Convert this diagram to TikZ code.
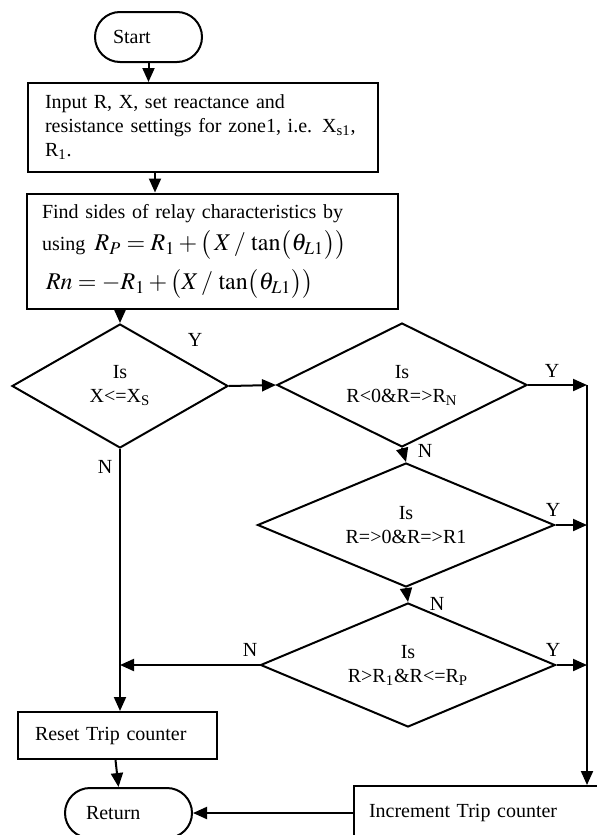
\documentclass[tikz,border=0pt]{standalone}
\usepackage{mathptmx}
\usepackage{fontspec}
\setmainfont{Liberation Serif}
\usetikzlibrary{shapes.geometric, arrows.meta, positioning, calc}

\begin{document}
\begin{tikzpicture}[
    x=0.5pt, y=-0.5pt,
    line width=1pt,
    font=\fontsize{10}{12}\selectfont,
    terminal/.style={rectangle, draw, rounded corners=12.5pt, minimum height=25pt, inner xsep=#1, inner ysep=0pt, align=left},
    procbox/.style={rectangle, draw, inner xsep=#1, inner ysep=0pt, align=left},
    decision/.style={diamond, draw, aspect=2, inner sep=0pt, align=center, minimum height=62pt},
    arrow/.style={->, >={Triangle[length=7pt, width=6pt]}},
    yn/.style={inner sep=0pt}
]
\useasboundingbox (0,0) rectangle (597,835);
\clip (0,0) rectangle (597,835);

% ===== START AND SETTINGS =====
\node[terminal=9pt, text width=35.5pt] (start) at (148.5,37) {Start};
\node[procbox=8.5pt, text width=158pt, minimum height=44.5pt] (input) at (203,127.5)
    {Input R, X, set reactance and\\ resistance settings for zone1, i.e. X\textsubscript{s1},\\ R\textsubscript{1}.};
\node[procbox=7.5pt, text width=170.5pt, minimum height=57.5pt] (find) at (212.5,251)
    {Find sides of relay characteristics by\\[3pt]
     using {\fontsize{12}{14}\selectfont\(\,R_P = R_1 + \bigl(\,X \,/\, \tan\bigl(\theta_{L1}\bigr)\bigr)\)}\\[4pt]
     \hspace*{2pt}{\fontsize{12}{14}\selectfont\(Rn = -R_1 + \bigl(X \,/\, \tan\bigl(\theta_{L1}\bigr)\bigr)\)}};

% ===== DECISIONS =====
\node[decision, minimum width=108pt] (d1) at (120,386) {Is\\X<=X\textsubscript{S}};
\node[decision, minimum width=125pt] (d2) at (402,385) {Is\\R<0\&R=>R\textsubscript{N}};
\node[decision, minimum width=148.5pt] (d3) at (406,525) {Is\\R=>0\&R=>R1};
\node[decision, minimum width=147.5pt] (d4) at (408,665) {Is\\R>R\textsubscript{1}\&R<=R\textsubscript{P}};

% ===== COUNTERS AND RETURN =====
\node[procbox=8.5pt, text width=82.5pt, minimum height=23.5pt] (reset) at (117.5,735.5) {Reset Trip counter};
\node[terminal=10.5pt, text width=42.5pt] (ret) at (128.5,813) {Return};
\node[procbox=7.5pt, text width=115pt, minimum height=27pt, anchor=north west] (incr) at (353,785) {Increment Trip counter};
\coordinate (ybus) at (587,385);

% ===== ARROWS: top chain =====
\draw[arrow] (start.south) -- (start.south |- input.north);
\draw[arrow] ([xshift=-24pt]input.south) -- ([xshift=-24pt]input.south |- find.north);
\draw[arrow] (find.south -| d1.north) -- (d1.north);

% ===== ARROWS: Y branches =====
\draw[arrow] (d1.east) -- (d2.west);
\draw[arrow] (d2.east) -- (ybus);
\draw[arrow] (d3.east) -- (d3.east -| ybus);
\draw[arrow] (d4.east) -- (d4.east -| ybus);
\draw[arrow] (ybus) -- (ybus |- incr.north);

% ===== ARROWS: N branches =====
\draw[arrow] (d2.south) -- (d3.north);
\draw[arrow] (d3.south) -- (d4.north);
\draw[arrow] (d4.west) -- (d4.west -| d1.south);
\draw[arrow] (d1.south) -- (d1.south |- reset.north);
\draw[arrow] ([xshift=-1pt]reset.south) -- ([xshift=-5pt]ret.north);
\draw[arrow] (incr.west |- ret.east) -- (ret.east);

% ===== Y / N LABELS =====
\node[yn] (y1) at (195,340) {Y};
\node[yn] (y2) at (552,371) {Y};
\node[yn] (y3) at (553,510) {Y};
\node[yn] (y4) at (553,650) {Y};
\node[yn] (n1) at (105,467) {N};
\node[yn] (n2) at (425,451) {N};
\node[yn] (n3) at (437,604) {N};
\node[yn] (n4) at (250,650) {N};

\end{tikzpicture}
\end{document}
